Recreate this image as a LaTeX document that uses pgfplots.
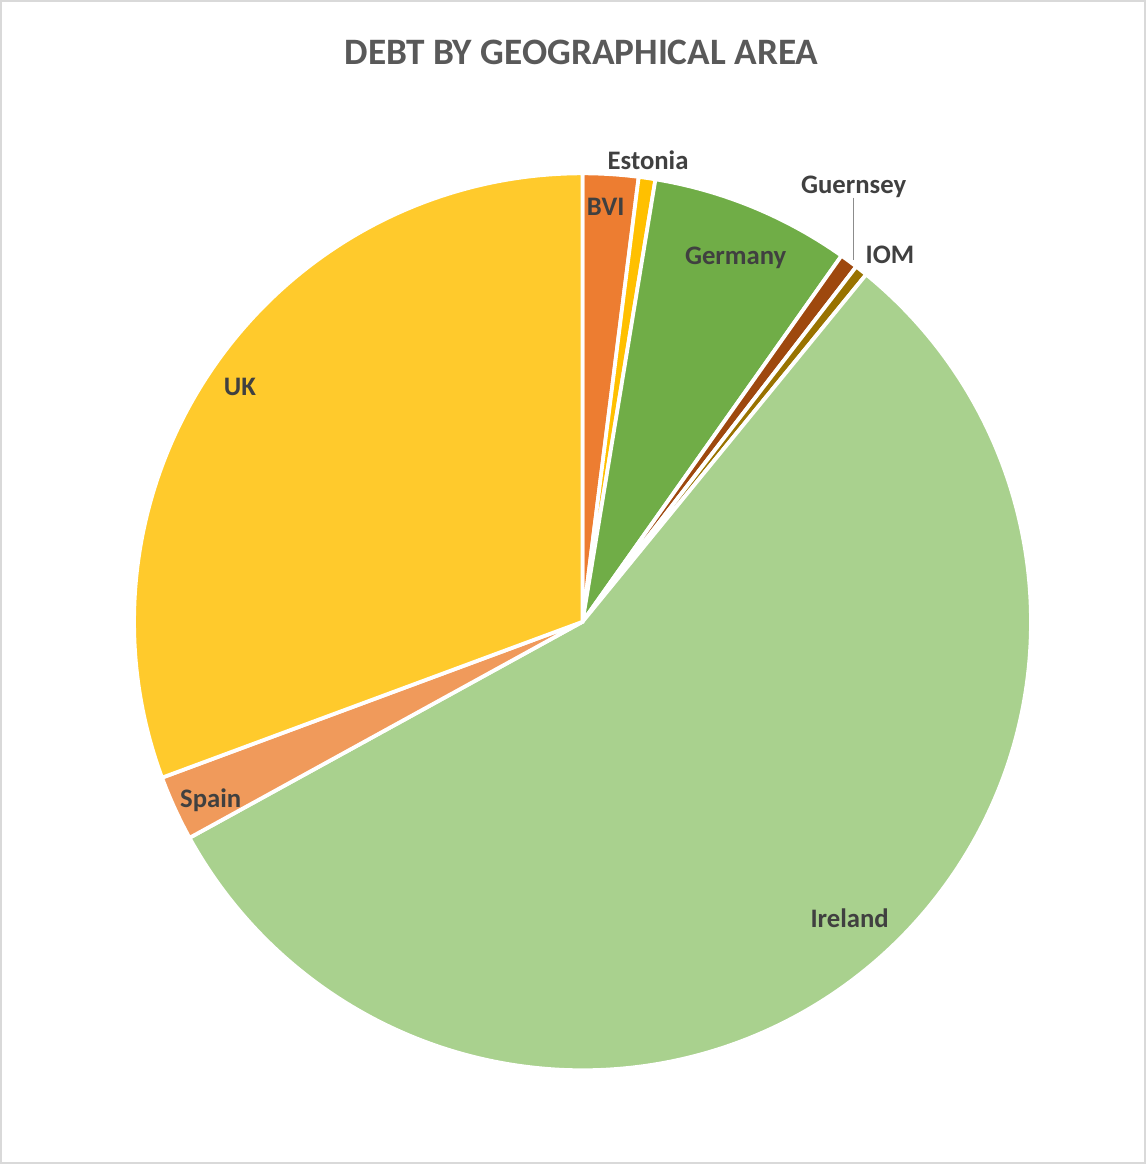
\documentclass[border=0pt]{standalone}
\usepackage{pgfplots}
\pgfplotsset{compat=1.18}
\usepackage{pgfplotstable}
\usepackage{fontspec}
\setmainfont{Carlito}

\definecolor{cBVI}{HTML}{ED7D31}
\definecolor{cEST}{HTML}{FFC000}
\definecolor{cGER}{HTML}{70AD47}
\definecolor{cGUE}{HTML}{9E480E}
\definecolor{cIOM}{HTML}{997300}
\definecolor{cIRL}{HTML}{A9D18E}
\definecolor{cESP}{HTML}{F09A5B}
\definecolor{cUK}{HTML}{FFCA2C}
\definecolor{txt}{HTML}{404040}

% share of debt, clockwise from 12 o'clock
\pgfplotstableread{
label    value  col
BVI      2.00   cBVI
Estonia  0.60   cEST
Germany  7.20   cGER
Guernsey 0.65   cGUE
IOM      0.45   cIOM
Ireland  56.10  cIRL
Spain    2.35   cESP
UK       30.65  cUK
}\piedata

\begin{document}
\begin{tikzpicture}
\begin{axis}[
  width=457.6pt, height=465.6pt, scale only axis,
  xmin=0, xmax=1144, ymin=0, ymax=1164,
  hide axis, clip=false,
]
% frame
\draw[color=black!15, line width=0.8pt] (axis cs:3,1157) rectangle (axis cs:1138,4);

% slices
\pgfmathsetmacro\acc{0}
\pgfplotsforeachungrouped \i in {0,...,7}{
  \pgfplotstablegetelem{\i}{value}\of\piedata \let\v\pgfplotsretval
  \pgfplotstablegetelem{\i}{col}\of\piedata \let\c\pgfplotsretval
  \pgfmathsetmacro\aS{90-3.6*\acc}
  \pgfmathsetmacro\aE{90-3.6*(\acc+\v)}
  \edef\temp{\noexpand\fill[color=\c, draw=white, line width=1.5pt]
    (axis cs:580,541) -- ++(\aS:178pt)
    arc[start angle=\aS, end angle=\aE, radius=178pt] -- cycle;}
  \temp
  \pgfmathsetmacro\acc{\acc+\v}
}

% title
\node[font=\bfseries\fontsize{14.8}{17}\selectfont, text=black!65] at (axis cs:579,1106) {DEBT BY GEOGRAPHICAL AREA};

% labels
\draw[color=black!45, line width=0.4pt] (axis cs:849,962) -- (axis cs:849,900);
\begin{scope}[every node/.style={font=\bfseries\fontsize{10.6}{12}\selectfont, text=txt}]
\node at (axis cs:645,999) {Estonia};
\node at (axis cs:603,953) {BVI};
\node at (axis cs:732,902) {Germany};
\node at (axis cs:849,973) {Guernsey};
\node at (axis cs:885,905) {IOM};
\node at (axis cs:240,774) {UK};
\node at (axis cs:211,364) {Spain};
\node at (axis cs:845,247) {Ireland};
\end{scope}
\end{axis}
\end{tikzpicture}
\end{document}
